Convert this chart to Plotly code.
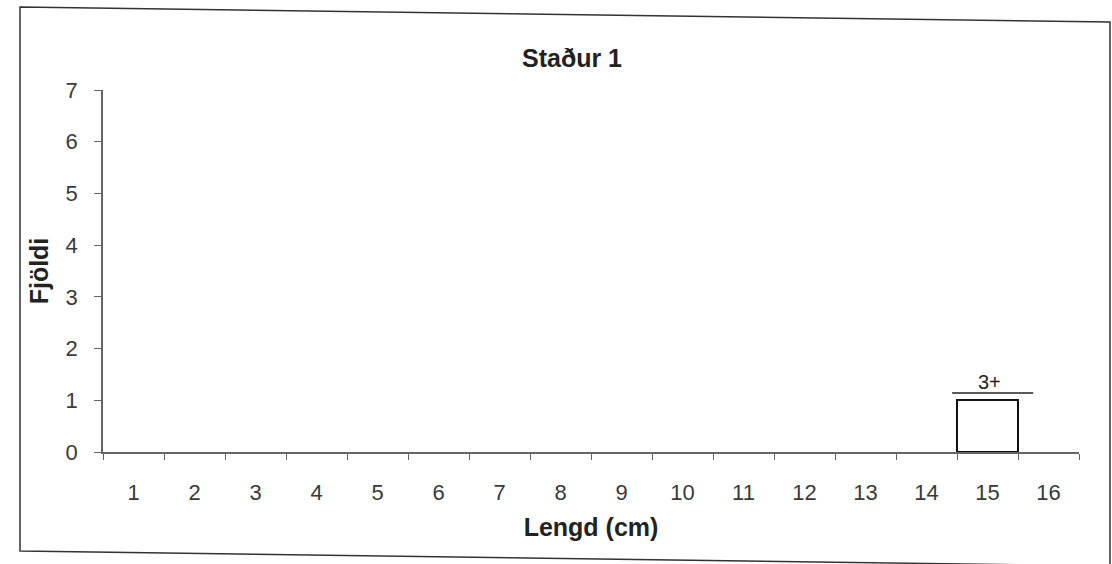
import plotly.graph_objects as go

# ---- data ----
lengths = [str(i) for i in range(1, 17)]          # Lengd (cm)
counts = [0, 0, 0, 0, 0, 0, 0, 0, 0, 0, 0, 0, 0, 0, 1, 0]  # Fjöldi
y_ticks = [0, 1, 2, 3, 4, 5, 6, 7]
age_label = "3+"
title_text = "Staður 1"
x_title = "Lengd (cm)"
y_title = "Fjöldi"

W, H = 1112, 564
L, R, T, B = 103, 33, 90, 112
pw, ph = W - L - R, H - T - B

def px_to_paper(px, py):
    return (px - L) / pw, (H - B - py) / ph

fig = go.Figure()
fig.add_trace(go.Bar(
    x=lengths, y=counts,
    marker=dict(color="white",
                line=dict(color=["#111" if c > 0 else "rgba(0,0,0,0)" for c in counts], width=2)),
    showlegend=False,
))

# age group marker above the bar
bar_idx = counts.index(max(counts))
fig.add_shape(type="line", xref="x", yref="y",
              x0=bar_idx - 0.58, x1=bar_idx + 0.75, y0=1.14, y1=1.14,
              line=dict(color="#222", width=1.5))
fig.add_annotation(x=bar_idx + 0.04, y=1.36, xref="x", yref="y", text=age_label,
                   showarrow=False, font=dict(family="Liberation Sans, Arial", size=20, color="#222"))

# outer chart frame (slightly skewed like the scan)
pts = [px_to_paper(20, 7), px_to_paper(1110, 22), px_to_paper(1110, 566), px_to_paper(20, 551)]
path = "M {} {} L {} {} L {} {} L {} {} Z".format(*[v for p in pts for v in p])
fig.add_shape(type="path", xref="paper", yref="paper", path=path,
              line=dict(color="#333", width=1.5), fillcolor="rgba(0,0,0,0)")

fig.update_layout(
    width=W, height=H,
    margin=dict(l=L, r=R, t=T, b=B),
    paper_bgcolor="white", plot_bgcolor="white",
    bargap=0,
    font=dict(family="Liberation Sans, Arial", color="#333"),
    title=dict(text=f"<b>{title_text}</b>", x=572 / W, xanchor="center",
               y=1 - 58 / H, yanchor="middle",
               font=dict(size=25, color="#222")),
    xaxis=dict(type="category", showgrid=False, zeroline=False, automargin=False,
               showline=True, linecolor="#666", linewidth=1.5,
               ticks="outside", tickson="boundaries", ticklen=6, tickcolor="#666",
               tickfont=dict(size=22, color="#3a3a3a"), ticklabelstandoff=20,
               title=dict(text=f"<b>{x_title}</b>", font=dict(size=25, color="#222"), standoff=14)),
    yaxis=dict(range=[0, 7], tickvals=y_ticks, showgrid=False, zeroline=False, automargin=False,
               showline=True, linecolor="#666", linewidth=1.5,
               ticks="outside", ticklen=7, tickcolor="#666",
               tickfont=dict(size=22, color="#3a3a3a"), ticklabelstandoff=12,
               title=dict(text=f"<b>{y_title}</b>", font=dict(size=25, color="#222"), standoff=10)),
)

fig.write_html("out.html", config={"displayModeBar": False},
               post_script="document.body.style.margin='0';document.body.style.padding='0';")
